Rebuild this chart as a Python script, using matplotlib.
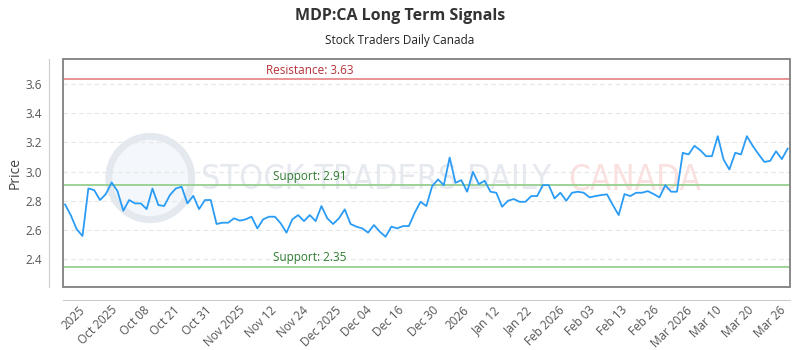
import matplotlib
matplotlib.use('Agg')
import matplotlib.pyplot as plt
import matplotlib.transforms as mtransforms
from matplotlib.patches import Rectangle, Ellipse

plt.rcParams['font.family'] = ['Open Sans', 'DejaVu Sans']

# closing prices, one per trading day
prices = [2.775, 2.70, 2.605, 2.559, 2.884, 2.873, 2.805, 2.846, 2.925, 2.866,
          2.732, 2.805, 2.782, 2.782, 2.743, 2.884, 2.771, 2.764, 2.839, 2.884,
          2.896, 2.782, 2.834, 2.743, 2.805, 2.805, 2.641, 2.650, 2.650, 2.680,
          2.664, 2.673, 2.691, 2.611, 2.673, 2.691, 2.691, 2.646, 2.582, 2.673,
          2.702, 2.661, 2.702, 2.661, 2.764, 2.680, 2.641, 2.680, 2.741, 2.641,
          2.623, 2.611, 2.582, 2.634, 2.589, 2.554, 2.623, 2.611, 2.627, 2.627,
          2.718, 2.793, 2.764, 2.900, 2.946, 2.907, 3.096, 2.923, 2.941, 2.862,
          2.998, 2.914, 2.937, 2.862, 2.855, 2.759, 2.800, 2.812, 2.793, 2.793,
          2.832, 2.832, 2.907, 2.907, 2.816, 2.855, 2.800, 2.855, 2.862, 2.855,
          2.823, 2.832, 2.839, 2.844, 2.771, 2.702, 2.846, 2.832, 2.855, 2.855,
          2.866, 2.846, 2.823, 2.907, 2.862, 2.862, 3.128, 3.117, 3.176, 3.146,
          3.105, 3.105, 3.242, 3.082, 3.014, 3.128, 3.117, 3.242, 3.176, 3.119,
          3.066, 3.073, 3.139, 3.085, 3.157]

tick_pos = [3.9, 9.4, 14.9, 20.2, 25.7, 31.3, 36.8, 42.3, 47.8, 53.1, 58.6,
            64.6, 69.8, 75.1, 80.6, 86.2, 91.4, 96.9, 102.4, 108.0, 113.1,
            118.6, 124.2]
tick_labels = ['2025', 'Oct 2025', 'Oct 08', 'Oct 21', 'Oct 31', 'Nov 2025',
               'Nov 12', 'Nov 24', 'Dec 2025', 'Dec 04', 'Dec 16', 'Dec 30',
               '2026', 'Jan 12', 'Jan 22', 'Feb 2026', 'Feb 03', 'Feb 13',
               'Feb 26', 'Mar 2026', 'Mar 10', 'Mar 20', 'Mar 26']

resistance = [3.63]
support = [2.91, 2.35]

fig = plt.figure(figsize=(8, 3.5), dpi=100)
ax = fig.add_axes([0.07875, 0.18, 0.90875, 0.6514])

# detached axis lines first (moving spines rebuilds the ticks)
for side in ['top', 'right']:
    ax.spines[side].set_visible(False)
ax.spines['left'].set_position(('outward', 10))
ax.spines['bottom'].set_position(('outward', 9))
ax.spines['left'].set_color('#cccccc')
ax.spines['bottom'].set_color('#cccccc')
ax.add_patch(Rectangle((0, 0), 1, 1, transform=ax.transAxes, fill=False,
                       edgecolor='#808080', lw=1.3, clip_on=False, zorder=4))

# watermark (logo circle + text)
ax.add_patch(Ellipse((0.12, 0.478), 0.114, 0.365, transform=ax.transAxes,
                     facecolor='#f4f7fb', edgecolor='#e4e9f0', lw=5,
                     zorder=0))
ax.text(0.19, 0.47, 'STOCK TRADERS DAILY', transform=ax.transAxes,
        fontsize=24.5, color='#e6e9ef', va='center', ha='left',
        family='DejaVu Sans', fontstretch='condensed', zorder=0)
ax.text(0.695, 0.47, 'CANADA', transform=ax.transAxes,
        fontsize=25, color='#fbe0e0', va='center', ha='left',
        family='DejaVu Sans', fontstretch='condensed', zorder=0)

x = range(len(prices))
ax.plot(x, prices, color='#2b9cf5', lw=1.3, zorder=3)

trans = mtransforms.blended_transform_factory(ax.transAxes, ax.transData)
for r in resistance:
    ax.axhline(r, color='#e88a8a', lw=1.3, zorder=2)
    ax.text(0.34, r + 0.015, 'Resistance: %.2f' % r, transform=trans,
            color='#b8333a', fontsize=8.5, ha='center', va='bottom')
for s in support:
    ax.axhline(s, color='#96cf8f', lw=1.3, zorder=2)
    ax.text(0.34, s + 0.015, 'Support: %.2f' % s, transform=trans,
            color='#2f7d2f', fontsize=8.5, ha='center', va='bottom')

ax.set_xlim(-0.35, 124.4)
ax.set_ylim(2.21, 3.77)
ax.tick_params(axis='both', length=0, labelsize=8.5, labelcolor='#555555')
ax.tick_params(axis='x', pad=3)
ax.tick_params(axis='y', pad=5)
ax.set_yticks([2.4, 2.6, 2.8, 3.0, 3.2, 3.4, 3.6])
ax.set_yticklabels(['2.4', '2.6', '2.8', '3.0', '3.2', '3.4', '3.6'])
ax.set_xticks(tick_pos)
ax.set_xticklabels(tick_labels, rotation=45, ha='right')
ax.grid(axis='y', color='#e6e6e6', linestyle=(0, (4, 3)), lw=0.8)
ax.set_axisbelow(True)

ax.set_ylabel('Price', fontsize=10, color='#444444')
ax.yaxis.set_label_coords(-0.055, 0.5)

fig.text(0.5, 0.955, 'MDP:CA Long Term Signals', ha='center', va='center',
         fontsize=11.5, fontweight='bold', color='#333333')
fig.text(0.5, 0.885, 'Stock Traders Daily Canada', ha='center', va='center',
         fontsize=8.5, color='#222222')

fig.savefig('out.png', dpi=100)
